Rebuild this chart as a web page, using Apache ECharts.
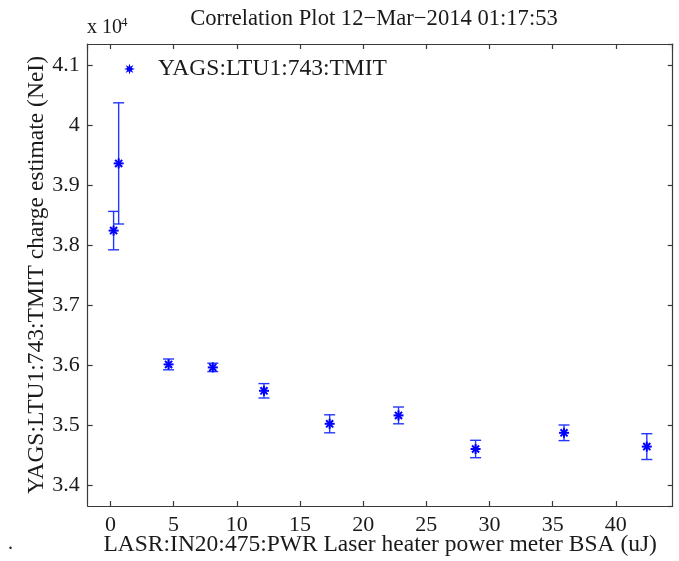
<!DOCTYPE html>
<html>
<head>
<meta charset="utf-8">
<script src="https://cdn.jsdelivr.net/npm/echarts@6/dist/echarts.min.js"></script>
<style>
  html, body { margin: 0; padding: 0; background: #ffffff; }
  #chart { width: 679px; height: 561px; }
</style>
</head>
<body>
<div id="chart"></div>
<script>
// Laser heater power (uJ) for each measurement step
const powerUJ = [0.25, 0.65, 4.6, 8.1, 12.15, 17.35, 22.8, 28.9, 35.9, 42.45];
// Mean charge estimate, in units of 1e4 electrons
const chargeE4 = [3.824, 3.936, 3.601, 3.596, 3.557, 3.502, 3.516, 3.460, 3.487, 3.464];
// Half-width of the error bar, same units
const chargeErrE4 = [0.032, 0.101, 0.009, 0.007, 0.012, 0.015, 0.014, 0.0145, 0.013, 0.0215];

const seriesName = 'YAGS:LTU1:743:TMIT';
const titleText = 'Correlation Plot 12\u2212Mar\u22122014 01:17:53';
const xAxisName = 'LASR:IN20:475:PWR Laser heater power meter BSA (uJ)';
const yAxisName = 'YAGS:LTU1:743:TMIT charge estimate (NeI)';
const yScaleText = 'x 10';
const yScaleExp = '4';

const xRange = [-1.8, 44.5];
const yRange = [3.365, 4.135];
const xStep = 5;
const yStep = 0.1;

const FONT = '"Liberation Serif", "Times New Roman", serif';
const TEXT = '#1a1a1a';
const AXIS = '#3a3a3a';
const BLUE = '#0000ff';
const BAR_BLUE = 'rgb(35,55,255)';

// Eight-pointed star used as the legend glyph
function starPath() {
  const pts = [];
  for (let k = 0; k < 16; k++) {
    const a = k * Math.PI / 8 - Math.PI / 2;
    const r = (k % 2 === 0) ? 10 : 4.5;
    pts.push((10 + r * Math.cos(a)).toFixed(2) + ',' + (10 + r * Math.sin(a)).toFixed(2));
  }
  return 'path://M' + pts.join('L') + 'Z';
}

// Error bar with caps plus an asterisk marker at the mean
function renderErrorPoint(params, api) {
  const x = api.value(0), y = api.value(1), e = api.value(2);
  const c = api.coord([x, y]);
  const hi = api.coord([x, y + e]);
  const lo = api.coord([x, y - e]);
  const cap = 5.5;
  const barStyle = { stroke: BAR_BLUE, lineWidth: 1.4, fill: null };
  const children = [
    { type: 'line', shape: { x1: c[0], y1: hi[1], x2: c[0], y2: lo[1] }, style: barStyle },
    { type: 'line', shape: { x1: c[0] - cap, y1: hi[1], x2: c[0] + cap, y2: hi[1] }, style: barStyle },
    { type: 'line', shape: { x1: c[0] - cap, y1: lo[1], x2: c[0] + cap, y2: lo[1] }, style: barStyle }
  ];
  const r = 5;
  for (let k = 0; k < 4; k++) {
    const a = k * Math.PI / 4;
    const dx = r * Math.cos(a), dy = r * Math.sin(a);
    children.push({
      type: 'line',
      shape: { x1: c[0] - dx, y1: c[1] - dy, x2: c[0] + dx, y2: c[1] + dy },
      style: { stroke: BLUE, lineWidth: 2, fill: null }
    });
  }
  return { type: 'group', children: children };
}

const tickLabel = { fontFamily: FONT, fontSize: 22, color: TEXT };
const nameStyle = { fontFamily: FONT, fontSize: 23.5, color: TEXT };

function mirrorAxis(extra) {
  return Object.assign({
    type: 'value',
    axisLine: { show: true, onZero: false, lineStyle: { color: AXIS, width: 1.2 } },
    axisTick: { show: true, inside: true, length: 5, lineStyle: { color: AXIS, width: 1.2 } },
    axisLabel: { show: false },
    splitLine: { show: false }
  }, extra);
}

const chart = echarts.init(document.getElementById('chart'), null, { renderer: 'canvas' });

chart.setOption({
  animation: false,
  backgroundColor: '#ffffff',
  grid: { left: 87.7, right: 6.3, top: 44, bottom: 55, containLabel: false, outerBoundsMode: 'none' },
  xAxis: [
    mirrorAxis({
      position: 'bottom',
      min: xRange[0], max: xRange[1], minInterval: xStep, maxInterval: xStep,
      axisLabel: Object.assign({ show: true, margin: 8, showMinLabel: false, showMaxLabel: false }, tickLabel),
      name: xAxisName, nameLocation: 'middle', nameGap: 27, nameMoveOverlap: false,
      nameTextStyle: nameStyle
    }),
    mirrorAxis({
      position: 'top',
      min: xRange[0], max: xRange[1], minInterval: xStep, maxInterval: xStep
    })
  ],
  yAxis: [
    mirrorAxis({
      position: 'left',
      min: yRange[0], max: yRange[1], minInterval: yStep, maxInterval: yStep,
      axisLabel: Object.assign({ show: true, margin: 8, showMinLabel: false, showMaxLabel: false }, tickLabel),
      name: yAxisName, nameLocation: 'middle', nameGap: 39, nameMoveOverlap: false,
      nameTextStyle: nameStyle
    }),
    mirrorAxis({
      position: 'right',
      min: yRange[0], max: yRange[1], minInterval: yStep, maxInterval: yStep
    })
  ],
  legend: {
    show: true,
    left: 124, top: 57,
    padding: 0,
    itemWidth: 11, itemHeight: 11,
    data: [{ name: seriesName, icon: starPath(), itemStyle: { color: BLUE } }],
    textStyle: { fontFamily: FONT, fontSize: 23.5, color: TEXT, padding: [0, 0, 0, 18] }
  },
  graphic: [
    {
      type: 'text', x: 374, y: 19,
      style: { text: titleText, font: '22.6px ' + FONT, fill: TEXT, align: 'center', verticalAlign: 'middle' }
    },
    {
      type: 'text', x: 87, y: 38,
      style: { text: yScaleText, font: '20px ' + FONT, fill: TEXT, align: 'left', verticalAlign: 'bottom' }
    },
    {
      type: 'text', x: 121, y: 29,
      style: { text: yScaleExp, font: '13px ' + FONT, fill: TEXT, align: 'left', verticalAlign: 'bottom' }
    },
    {
      type: 'text', x: 8, y: 554,
      style: { text: '.', font: '20px ' + FONT, fill: TEXT, align: 'left', verticalAlign: 'bottom' }
    }
  ],
  series: [{
    name: seriesName,
    type: 'custom',
    xAxisIndex: 0,
    yAxisIndex: 0,
    itemStyle: { color: BLUE },
    renderItem: renderErrorPoint,
    encode: { x: 0, y: 1 },
    data: powerUJ.map(function (p, i) { return [p, chargeE4[i], chargeErrE4[i]]; })
  }]
});
</script>
</body>
</html>
